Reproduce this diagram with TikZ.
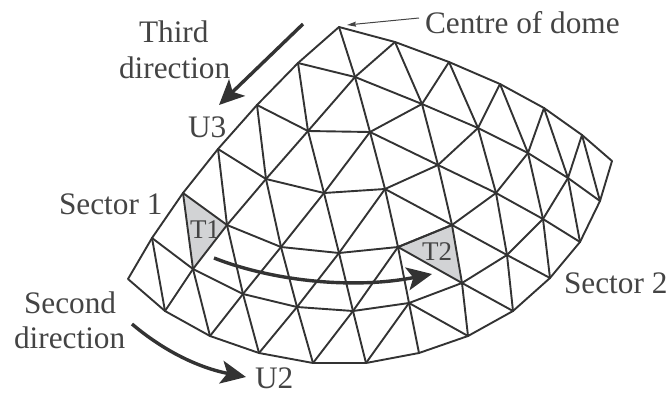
\documentclass[tikz,border=0pt]{standalone}
\usepackage{fontspec}
\setmainfont{Liberation Serif}
\usetikzlibrary{arrows.meta}
\definecolor{ink}{HTML}{333333}
\definecolor{txt}{HTML}{444444}
\definecolor{cell}{HTML}{D2D3D5}
\tikzset{
  mesh/.style={draw=ink,line width=1.9pt,line join=round,line cap=round},
  lab/.style={anchor=base west,inner sep=0pt,outer sep=0pt,text=txt,font=\fontsize{31.3}{31.3}\selectfont},
  small/.style={anchor=base west,inner sep=0pt,outer sep=0pt,text=txt,font=\fontsize{27}{27}\selectfont},
  bigarrow/.style={draw=ink,line width=3.4pt,-{Stealth[length=25pt,width=23pt,inset=6pt]}},
  leader/.style={draw=txt,line width=1pt,-{Stealth[length=9pt,width=5pt,inset=1pt]}}
}
\begin{document}
\begin{tikzpicture}[x=1pt,y=-1pt]
\useasboundingbox (0,0) rectangle (670,394);
% vertices
\foreach \n/\x/\y in {T0/339/27,T1/395/42,T2/449/62,T3/500/84,T4/544/108,T5/582/135,T6/612/161,
 L1/298/63,L2/257/105,L3/218/149,L4/183/193,L5/152/238,L6/128/279,
 B1/165/311,B2/210/336,B3/259/353,B4/313/363,B5/366/363,B6/419/353,B7/468/336,B8/513/311,B9/550/278,B10/580/242,B11/600/201,
 a1/355/77,a2/422/104,a3/478/128,a4/528/153,a5/568/178,
 b1/308/131,b2/370/132,b3/438/165,b4/496/193,b5/543/219,
 c1/266/179,c2/324/193,c3/385/189,c4/452/225,c5/507/255,
 d1/227/225,d2/281/247,d3/339/253,d4/398/247,d5/462/283,
 e1/193/269,e2/243/294,e3/297/307,e4/353/311,e5/409/303}
 {\coordinate (\n) at (\x,\y);}
% shaded cells
\fill[cell] (L4)--(d1)--(e1)--cycle;
\fill[cell] (d4)--(c4)--(d5)--cycle;
% boundary
\draw[mesh] (T6)--(T5)--(T4)--(T3)--(T2)--(T1)--(T0)--(L1)--(L2)--(L3)--(L4)--(L5)--(L6)--(B1)--(B2)--(B3)--(B4)--(B5)--(B6)--(B7)--(B8)--(B9)--(B10)--(B11)--(T6);
% arcs
\draw[mesh] (L1)--(a1)--(a2)--(a3)--(a4)--(a5)--(B11);
\draw[mesh] (L2)--(b1)--(b2)--(b3)--(b4)--(b5)--(B10);
\draw[mesh] (L3)--(c1)--(c2)--(c3)--(c4)--(c5)--(B9);
\draw[mesh] (L4)--(d1)--(d2)--(d3)--(d4)--(c4);
\draw[mesh] (d4)--(d5)--(B8);
\draw[mesh] (L5)--(e1)--(e2)--(e3)--(e4)--(e5)--(d5)--(c5)--(b5)--(a5)--(T5);
\draw[mesh] (e5)--(B7);
% spokes
\draw[mesh] (T0)--(a1)--(b2)--(c3)--(d4)--(e5)--(B6);
\draw[mesh] (T1)--(a2)--(b3)--(c4)--(d5)--(B7);
\draw[mesh] (T2)--(a3)--(b4)--(c5)--(B8);
\draw[mesh] (T3)--(a4)--(b5)--(B9);
\draw[mesh] (T4)--(a5)--(B10);
\draw[mesh] (T5)--(B11);
\draw[mesh] (L1)--(b1)--(c2)--(d3)--(e4)--(B5);
\draw[mesh] (L2)--(c1)--(d2)--(e3)--(B4);
\draw[mesh] (L3)--(d1)--(e2)--(B3);
\draw[mesh] (L4)--(e1)--(B2);
\draw[mesh] (L5)--(B1);
% diagonals
\draw[mesh] (T1)--(a1)--(b1)--(c1)--(d1)--(e1)--(B1);
\draw[mesh] (T2)--(a2)--(b2)--(c2)--(d2)--(e2)--(B2);
\draw[mesh] (T3)--(a3)--(b3)--(c3)--(d3)--(e3)--(B3);
\draw[mesh] (T4)--(a4)--(b4)--(c4)--(d4)--(e4)--(B4);
\draw[mesh] (e5)--(B5);
% labels
\node[lab] (third) at (139,42) {Third};
\node[lab] (dir3) at (119,78) {direction};
\node[lab] (u3) at (188,137) {U3};
\node[lab] (centre) at (425,33) {Centre of dome};
\node[lab] (s1) at (59,214) {Sector 1};
\node[lab] (s2) at (564,293) {Sector 2};
\node[lab] (second) at (24,313) {Second};
\node[lab] (dir2) at (14,348) {direction};
\node[lab] (u2) at (255,388) {U2};
\node[small] (t1) at (190,238) {T1};
\node[small] (t2) at (422,260) {T2};
% arrows
\coordinate (leadA) at (419,18);
\coordinate (leadB) at (347,25);
\draw[leader] (leadA)--(leadB);
\coordinate (a3s) at (303,24);
\coordinate (a3e) at (219,105);
\draw[bigarrow] (a3s)--(a3e);
\coordinate (a2s) at (132,324);
\coordinate (a2e) at (246,377);
\draw[bigarrow] (a2s) .. controls (165,352) and (200,368) .. (a2e);
\coordinate (ams) at (214,258);
\coordinate (ame) at (432,274);
\draw[bigarrow] (ams) .. controls (270,280) and (350,290) .. (ame);
\end{tikzpicture}
\end{document}
